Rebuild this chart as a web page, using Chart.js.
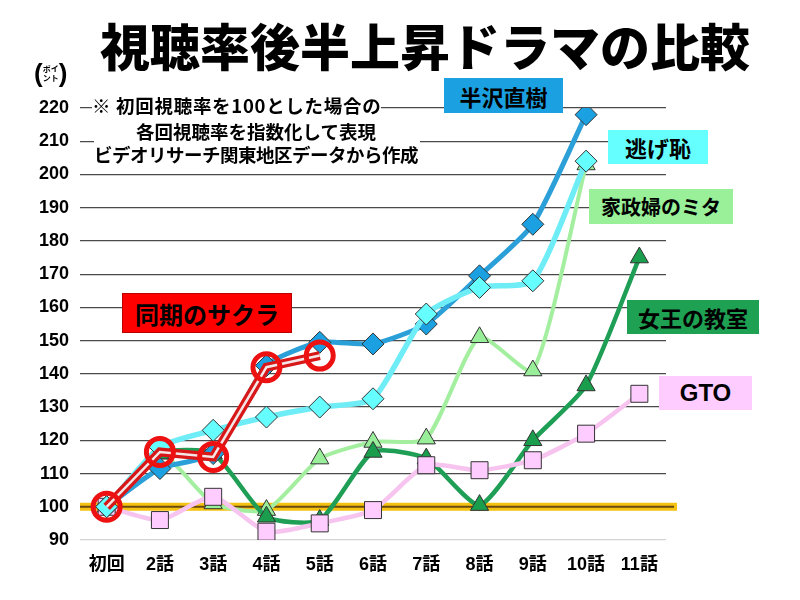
<!DOCTYPE html>
<html lang="ja">
<head>
<meta charset="utf-8">
<script src="https://cdn.jsdelivr.net/npm/chart.js@4/dist/chart.umd.min.js"></script>
<style>
  body { margin: 0; background: #fff; }
  #wrap { position: relative; width: 800px; height: 600px; overflow: hidden; font-family: "Noto Sans CJK JP", "Liberation Sans", sans-serif; }
  #wrap canvas { position: absolute; left: 0; top: 0; }
  .title { position: absolute; left: 0; width: 850px; top: 14px; text-align: center; font-size: 50px; line-height: 60px; font-weight: 900; color: #000; letter-spacing: 0; }
  .unit { position: absolute; left: 34px; top: 60px; display: flex; align-items: center; font-weight: 700; color: #000; }
  .unit .p { font-size: 26px; line-height: 26px; font-family: "Liberation Sans", sans-serif; }
  .unit .s { font-size: 8px; line-height: 9px; text-align: center; }
  .note { position: absolute; background: #fff; font-weight: 700; font-size: 18.5px; line-height: 22px; color: #000; white-space: nowrap; }
  .tag { position: absolute; display: flex; align-items: center; justify-content: center; font-weight: 700; color: #000; white-space: nowrap; }
</style>
</head>
<body>
<div id="wrap">
  <canvas id="chart" width="800" height="600"></canvas>
  <div class="title">視聴率後半上昇ドラマの比較</div>
  <div class="unit"><span class="p">(</span><div class="s">ポイ<br>ント</div><span class="p">)</span></div>
  <div class="note" style="left:92px; top:94px; letter-spacing:0.7px;">※ 初回視聴率を100とした場合の</div>
  <div class="note" style="left:94px; top:143px; letter-spacing:-0.5px;">ビデオリサーチ関東地区データから作成</div>
  <div class="note" style="left:94px; top:119px; width:324px; line-height:24px; text-align:center; padding-right:2px;">各回視聴率を指数化して表現</div>
  <div class="tag" style="left:444px; top:78px; width:119px; height:35px; background:#1ba1e2; font-size:22px;">半沢直樹</div>
  <div class="tag" style="left:608px; top:130px; width:100px; height:34px; background:#66ffff; font-size:22px;">逃げ恥</div>
  <div class="tag" style="left:589px; top:189px; width:144px; height:35px; background:#99f099; font-size:20px;">家政婦のミタ</div>
  <div class="tag" style="left:627px; top:300px; width:132px; height:34px; background:#1ea152; font-size:22px;">女王の教室</div>
  <div class="tag" style="left:659px; top:376px; width:93px; height:34px; background:#ffccff; font-size:24px; font-family:'Liberation Sans', sans-serif;">GTO</div>
  <div class="tag" style="left:122px; top:293px; width:170px; height:40px; background:#ff0000; font-size:24px; box-sizing:border-box; border:1px solid #b00;">同期のサクラ</div>
</div>
<script>
const episodes = ['初回', '2話', '3話', '4話', '5話', '6話', '7話', '8話', '9話', '10話', '11話'];
const hanzawa = [100, 111.5, 116, 142.5, 149.5, 149, 155, 169.5, 185, 218, null];
const nigehaji = [100, 118, 123, 127, 130, 132.5, 158, 166, 168, 204, null];
const kaseifu = [100, 116, 101, 99, 114.5, 119.5, 120.5, 151, 141, 203, null];
const joou = [100, 116, 116, 97, 96, 116.5, 114.5, 100.5, 120, 136.5, 175];
const gto = [100, 96, 103, 92.5, 95, 99, 112.5, 111, 114, 122, 134];
const sakura = [100, 116.5, 115, 142, 145.5, null, null, null, null, null, null];
const yTicks = [90, 100, 110, 120, 130, 140, 150, 160, 170, 180, 190, 200, 210, 220];
const baseValue = 100;

const baseLinePlugin = {
  id: 'baseLine',
  beforeDatasetsDraw(chart) {
    const { ctx, chartArea, scales } = chart;
    const y = scales.y.getPixelForValue(baseValue);
    ctx.save();
    ctx.strokeStyle = '#f5c211';
    ctx.lineWidth = 8;
    ctx.beginPath();
    ctx.moveTo(chartArea.left, y);
    ctx.lineTo(chartArea.right + 11, y);
    ctx.stroke();
    ctx.strokeStyle = '#6b4a10';
    ctx.lineWidth = 2;
    ctx.beginPath();
    ctx.moveTo(chartArea.left, y);
    ctx.lineTo(chartArea.right + 8, y);
    ctx.stroke();
    ctx.restore();
  }
};

const lineSet = (data, color, width, fill, style, radius, order) => ({
  data,
  borderColor: color,
  borderWidth: width,
  pointStyle: style,
  pointRadius: radius,
  pointHoverRadius: radius,
  pointBackgroundColor: fill,
  pointBorderColor: '#333',
  pointBorderWidth: 1,
  tension: 0.2,
  spanGaps: false,
  order,
});

const ctx = document.getElementById('chart').getContext('2d');
new Chart(ctx, {
  type: 'line',
  data: {
    labels: episodes,
    datasets: [
      lineSet(kaseifu, '#a3ef9f', 4, '#99ee99', 'triangle', 10.5, 6),
      lineSet(joou, '#1f9e55', 4.5, '#1a9e4e', 'triangle', 10.5, 5),
      lineSet(gto, '#f7c4f0', 4.5, '#ffccff', 'rect', 12, 4),
      lineSet(hanzawa, '#2a9fd8', 5, '#1ba1e2', 'rectRot', 11, 3),
      lineSet(nigehaji, '#6eedf7', 5.5, '#66ffff', 'rectRot', 11, 2),
      { data: sakura, borderColor: '#d81818', borderWidth: 9, pointRadius: 0, tension: 0, order: 1.2 },
      { data: sakura, borderColor: '#f4e6e6', borderWidth: 2.5, pointRadius: 0, tension: 0, order: 1.1 },
      {
        data: sakura,
        showLine: false,
        pointStyle: 'circle',
        pointRadius: 13.5,
        pointHoverRadius: 13.5,
        pointBackgroundColor: 'rgba(255,255,255,0)',
        pointBorderColor: '#ee1111',
        pointBorderWidth: 5,
        order: 1,
      },
    ],
  },
  options: {
    responsive: false,
    animation: false,
    events: [],
    layout: { padding: { top: 108, right: 134, left: 0, bottom: 0 } },
    plugins: {
      legend: { display: false },
      title: { display: false },
      tooltip: { enabled: false },
    },
    scales: {
      x: {
        offset: true,
        grid: { display: false, drawTicks: false },
        border: { display: false },
        ticks: {
          padding: 14,
          color: '#000',
          font: { family: "'Liberation Sans', 'Noto Sans CJK JP', sans-serif", size: 18, weight: 'bold' },
        },
        afterFit: (s) => { s.height = 60; },
      },
      y: {
        min: 90,
        max: 220,
        afterBuildTicks: (s) => { s.ticks = yTicks.map(v => ({ value: v })); },
        grid: {
          color: (c) => (c.tick && c.tick.value === 90 ? '#d4d4d4' : '#4a4a4a'),
          lineWidth: 1.3,
          drawTicks: false,
        },
        border: { display: false },
        ticks: {
          padding: 11,
          color: '#000',
          font: { family: "'Liberation Sans', sans-serif", size: 18, weight: 'bold' },
        },
        afterFit: (s) => { s.width = 80; },
      },
    },
  },
  plugins: [baseLinePlugin],
});
</script>
</body>
</html>
